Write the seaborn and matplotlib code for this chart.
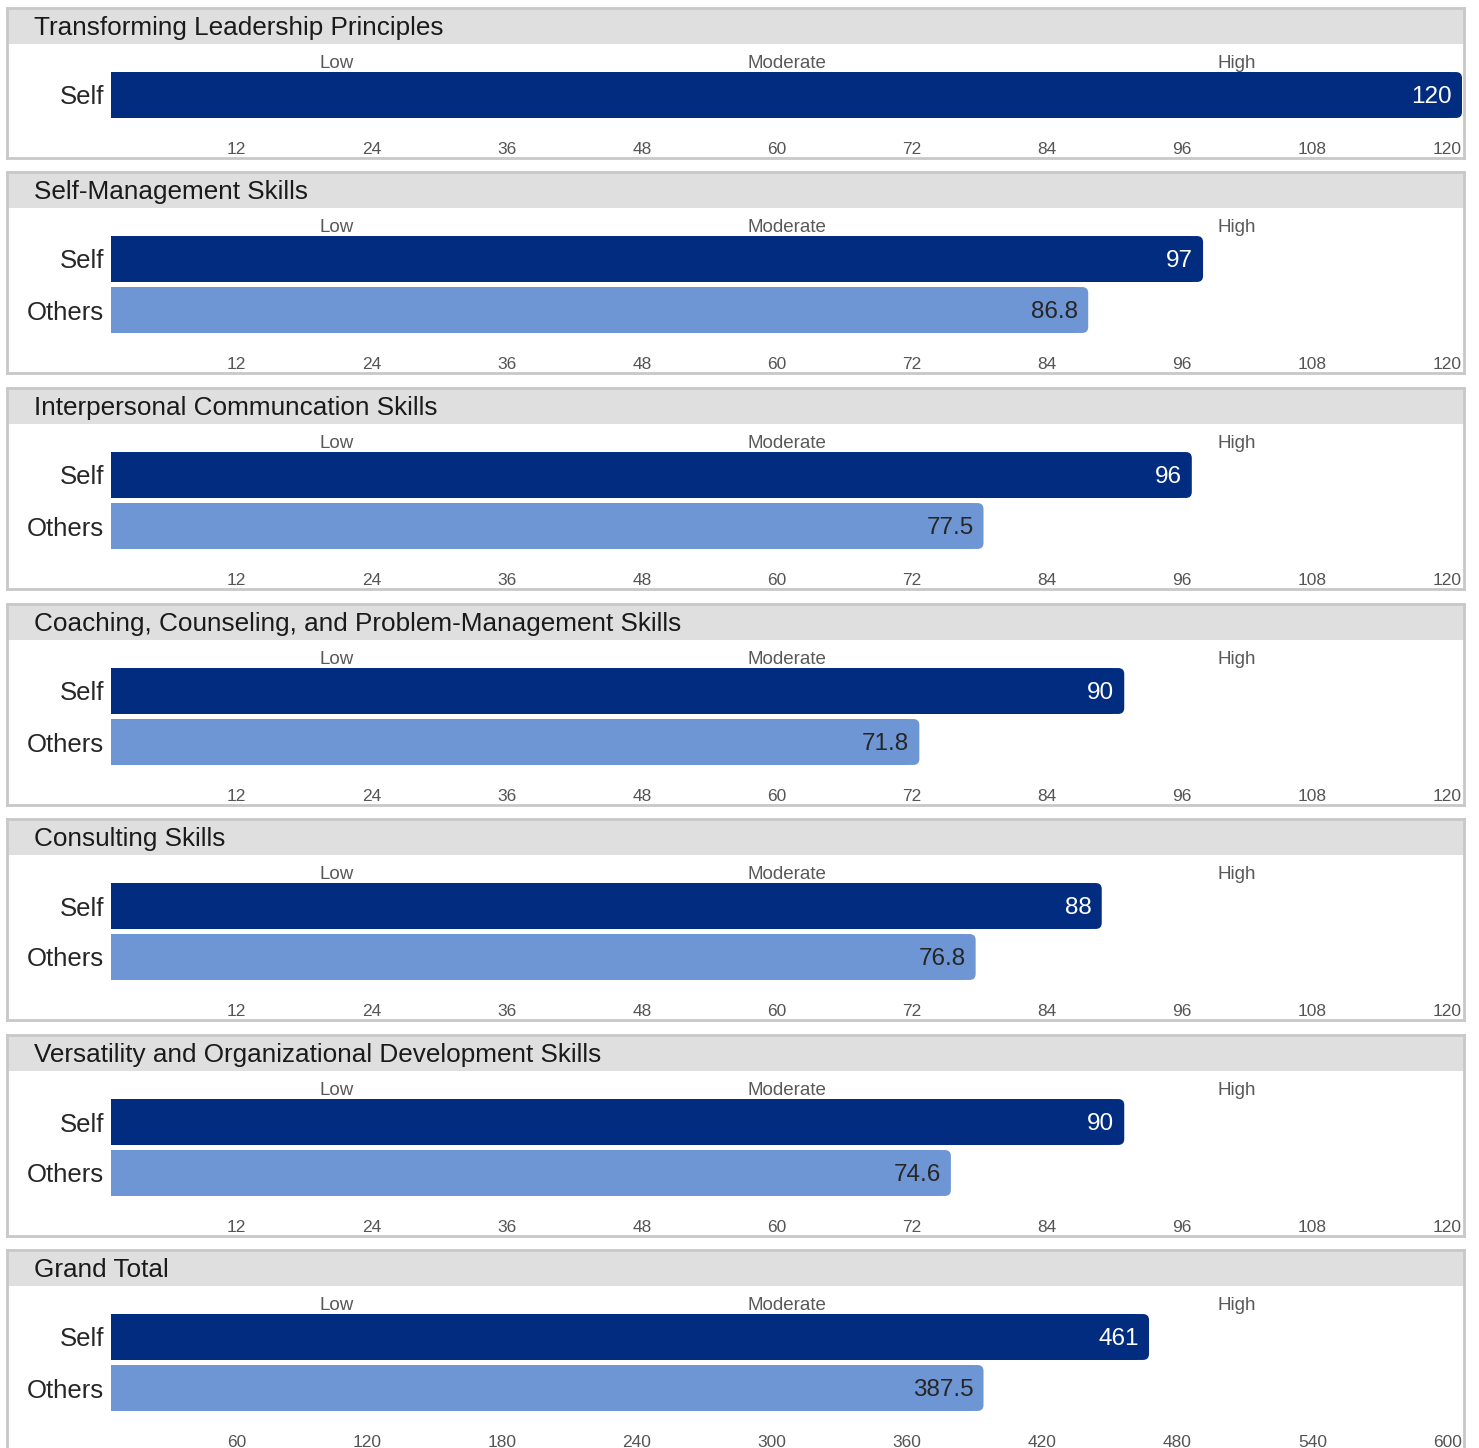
import numpy as np
import pandas as pd
import seaborn as sns
import matplotlib.pyplot as plt
from matplotlib.patches import Rectangle, FancyBboxPatch

# chart data
sections = [
    "Transforming Leadership Principles",
    "Self-Management Skills",
    "Interpersonal Communcation Skills",
    "Coaching, Counseling, and Problem-Management Skills",
    "Consulting Skills",
    "Versatility and Organizational Development Skills",
    "Grand Total",
]
self_scores = [120, 97, 96, 90, 88, 90, 461]
others_scores = [np.nan, 86.8, 77.5, 71.8, 76.8, 74.6, 387.5]
scale_max = [120, 120, 120, 120, 120, 120, 600]
band_labels = ["Low", "Moderate", "High"]

NAVY = "#012c80"
LIGHT = "#6f96d4"

# layout in pixels (y measured from the top)
W, H = 1479, 1448
panel_tops = [8, 172, 388, 604, 819, 1035, 1250]
HEADER = 36
ROW = 51
AX_LEFT, AX_RIGHT = 111, 1462
BORDER_L, BORDER_R = 7, 1464

sns.set_theme(style="white")
plt.rcParams['font.family'] = ['Liberation Sans', 'DejaVu Sans']

fig = plt.figure(figsize=(W / 100, H / 100), dpi=100)
fig.patch.set_facecolor("white")


def fig_box(x0, y0, x1, y1):
    return [x0 / W, 1 - y1 / H, (x1 - x0) / W, (y1 - y0) / H]


for i, title in enumerate(sections):
    top = panel_tops[i]
    has_others = not np.isnan(others_scores[i])
    raters = ["Self", "Others"] if has_others else ["Self"]
    scores = [self_scores[i], others_scores[i]] if has_others else [self_scores[i]]
    plot_h = ROW * (len(raters) + 1) + 12
    total_h = HEADER + plot_h
    xmax = scale_max[i]

    # panel frame + grey header band
    frame = fig.add_axes(fig_box(BORDER_L, top, BORDER_R, top + total_h))
    frame.set_xlim(0, 1)
    frame.set_ylim(0, 1)
    frame.set_xticks([])
    frame.set_yticks([])
    frame.set_facecolor("white")
    for s in frame.spines.values():
        s.set_color("#c8c8c8")
        s.set_linewidth(2)
    frame.add_patch(Rectangle((0, 1 - HEADER / total_h), 1, HEADER / total_h,
                              color="#dfdfdf", lw=0, transform=frame.transAxes))
    frame.text((34 - BORDER_L) / (BORDER_R - BORDER_L), 1 - (HEADER / 2 + 2) / total_h,
               title, ha="left", va="center", fontsize=18.8, color="#1a1a1a")

    # bars
    ax = fig.add_axes(fig_box(AX_LEFT, top + HEADER, AX_RIGHT, top + total_h))
    ax.patch.set_alpha(0)
    df = pd.DataFrame({"rater": raters, "score": scores})
    sns.barplot(data=df, x="score", y="rater", hue="rater",
                palette={"Self": NAVY, "Others": LIGHT}, saturation=1,
                width=0.9, linewidth=0, legend=False, ax=ax)
    ax.set_xlim(0, xmax)
    ax.set_ylim(-1 + plot_h / ROW, -1)
    for s in ax.spines.values():
        s.set_visible(False)

    # round off the right end of each bar
    xu = xmax / (AX_RIGHT - AX_LEFT)
    yu = 1 / ROW
    r = 6 * xu
    for p in list(ax.patches):
        x0, y0 = p.get_x(), p.get_y()
        w, h = p.get_width(), p.get_height()
        p.set_width(w - 2 * r)
        ax.add_patch(FancyBboxPatch((x0 + w - 4 * r, y0), 4 * r, h,
                                    boxstyle=f"round,pad=0,rounding_size={r}",
                                    mutation_aspect=yu / xu,
                                    facecolor=p.get_facecolor(), lw=0))

    # value labels
    for j, v in enumerate(scores):
        ax.text(v - 10 * xu, j + 2 / ROW, f"{v:g}", ha="right", va="center",
                fontsize=17.5, color="white" if j == 0 else "#262626")

    # Low / Moderate / High bands
    for k, lab in enumerate(band_labels):
        ax.text(xmax * (2 * k + 1) / 6, -1 + 19.5 / ROW, lab, ha="center",
                va="center", fontsize=13.5, color="#595959")

    ticks = [xmax / 10 * n for n in range(1, 11)]
    ax.set_xticks(ticks)
    ax.set_xticklabels([f"{t:g}" for t in ticks])
    for lab in ax.get_xticklabels():
        lab.set_ha("right")
    ax.tick_params(axis="x", length=0, pad=-11.5, labelsize=12.5, labelcolor="#555555")
    ax.tick_params(axis="y", length=0, pad=5, labelsize=18.5, labelcolor="#262626")
    ax.set_xlabel("")
    ax.set_ylabel("")

fig.savefig("out.png", dpi=100)
